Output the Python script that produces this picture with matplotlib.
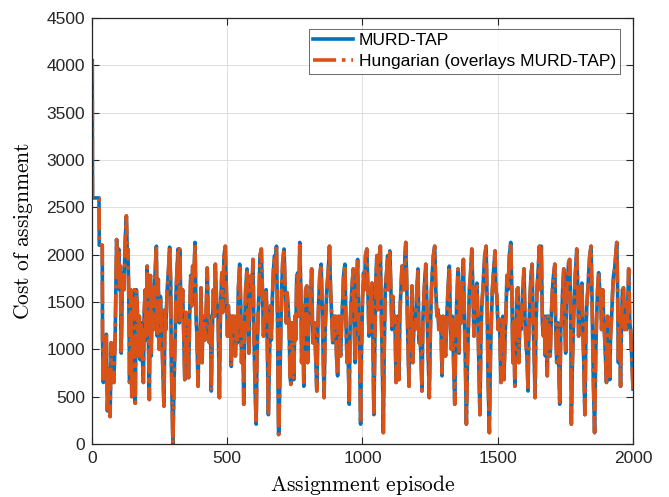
import matplotlib
matplotlib.use("Agg")
import matplotlib.pyplot as plt

plt.rcParams['font.family'] = ['Liberation Sans', 'DejaVu Sans']
plt.rcParams['mathtext.fontset'] = 'cm'

# nombres de las series y ejes
series_names = ['MURD-TAP', 'Hungarian (overlays MURD-TAP)']
x_label = r'$\mathrm{Assignment\ episode}$'
y_label = r'$\mathrm{Cost\ of\ assignment}$'
x_ticks = [0, 500, 1000, 1500, 2000]
y_ticks = [0, 500, 1000, 1500, 2000, 2500, 3000, 3500, 4000, 4500]

# vertices (episodio, costo)
episode = [
    1, 2, 26, 27, 38,
    39, 42, 47, 49, 53, 57, 62, 67, 71, 76,
    81, 86, 91, 95, 99, 102, 105, 108, 113, 118,
    123, 127, 131, 133, 136, 139, 143, 147, 152, 157,
    160, 164, 167, 171, 175, 178, 182, 186, 190, 193,
    197, 201, 204, 208, 212, 216, 219, 223, 227, 231,
    238, 241, 245, 249, 253, 257, 262, 266, 270, 273,
    278, 283, 287, 291, 293, 299, 304, 308, 311, 318,
    323,
    324, 330, 335, 339, 343, 348, 353, 357, 361, 365,
    369, 372, 377, 381, 385, 388, 392, 396, 399, 403,
    407, 410, 414, 418, 423, 426, 430, 434, 438, 441,
    445, 449, 453, 456, 461, 466, 471, 475, 480, 483,
    488, 493, 497, 501, 504, 508, 512, 515, 519, 523,
    527, 530, 534, 538, 541, 546, 550, 553, 557, 561,
    564, 568, 573, 577, 580, 584, 588, 592, 595, 599,
    603, 607, 610, 614, 618, 621, 626, 630, 634, 639,
    644, 647, 652,
    660, 663, 667, 671, 675, 678, 682, 686, 688, 690,
    694, 698, 701, 705, 710, 714, 718, 721, 725, 729,
    732, 735, 739, 742, 746, 750, 753, 757, 761, 764,
    768, 772, 775, 779, 783, 786, 790, 794, 797, 801,
    805, 809, 812, 816, 820, 823, 827, 831, 835, 838,
    842, 847, 851, 854, 858, 862, 866, 869, 873, 878,
    882, 886, 890, 893, 897, 901, 904, 908, 912, 915,
    919, 923, 927, 930, 935, 939, 943, 947, 951, 954,
    958, 962, 966, 969, 973, 977, 982, 986,
    988, 993, 996, 1000, 1004, 1007, 1011, 1016, 1020, 1024,
    1027, 1031, 1035, 1038, 1042, 1046, 1050, 1053, 1057, 1061,
    1066, 1069, 1073, 1077, 1080, 1084, 1089, 1093, 1096, 1101,
    1105, 1109, 1112, 1116, 1120, 1124, 1127, 1131, 1135, 1138,
    1142, 1146, 1149, 1153, 1157, 1160, 1164, 1168, 1172, 1175,
    1179, 1183, 1186, 1190, 1194, 1197, 1201, 1205, 1209, 1212,
    1216, 1220, 1223, 1227, 1231, 1234, 1238, 1242, 1247, 1251,
    1255, 1258, 1262, 1267, 1271, 1275, 1279, 1282, 1286, 1291,
    1294, 1298, 1302, 1307, 1312, 1316,
    1321, 1325, 1329, 1332, 1337, 1341, 1344, 1348, 1353, 1357,
    1360, 1364, 1368, 1373, 1377, 1380, 1384, 1388, 1392, 1395,
    1399, 1404, 1408, 1412, 1415, 1419, 1423, 1427, 1430, 1434,
    1438, 1441, 1445, 1449, 1452, 1457, 1461, 1464, 1469, 1473,
    1476, 1480, 1485, 1490, 1493, 1497, 1501, 1505, 1508, 1512,
    1516, 1519, 1523, 1527, 1530, 1534, 1538, 1543, 1548, 1552,
    1556, 1560, 1563, 1567, 1571, 1575, 1578, 1582, 1586, 1589,
    1593, 1597, 1601, 1604, 1608, 1612, 1615, 1619, 1623, 1627,
    1630, 1634, 1638, 1641, 1645, 1649,
    1654, 1657, 1661, 1665, 1669, 1672, 1676, 1680, 1683, 1687,
    1691, 1694, 1698, 1702, 1706, 1711, 1714, 1718, 1722, 1725,
    1729, 1733, 1737, 1740, 1744, 1748, 1751, 1755, 1759, 1762,
    1766, 1770, 1772, 1776, 1780, 1784, 1787, 1792, 1796, 1799,
    1803, 1807, 1811, 1814, 1818, 1822, 1826, 1829, 1833, 1837,
    1840, 1845, 1849, 1853, 1858, 1862, 1865, 1869, 1873, 1877,
    1880, 1884, 1888, 1891, 1895, 1899, 1902, 1906, 1910, 1914,
    1917, 1921, 1925, 1928, 1932, 1936, 1940, 1943, 1946, 1950,
    1954, 1957, 1961, 1965, 1969, 1972, 1976, 1980, 1984, 1988,
    1991, 1996, 2000,
]

cost = [
    4050, 2600, 2600, 2100, 2100,
    1100, 650, 1140, 720, 1160, 350, 790, 290, 1070, 720,
    650, 1180, 2160, 1780, 2060, 1630, 1880, 960, 1810, 1630,
    2160, 2410, 1990, 2060, 1560, 650, 1630, 500, 1140, 1630,
    430, 1630, 1490, 930, 1350, 890, 1280, 930, 650, 1390,
    1630, 1100, 1880, 1210, 470, 1780, 930, 1630, 1210, 1670,
    2090, 1140, 1740, 1000, 1560, 1280, 790, 400, 1420, 1210,
    1630, 1850, 2080, 1700, 930, 5, 720, 1210, 1630, 2060,
    1280,
    2060, 1350, 1630, 1180, 680, 1390, 1100, 700, 1350, 1780,
    1460, 1880, 1780, 2130, 1320, 1140, 610, 1210, 890, 1650,
    860, 1280, 1350, 1100, 1490, 1860, 1350, 1070, 1350, 560,
    1210, 1630, 1350, 1900, 1490, 1420, 490, 1420, 1810, 1390,
    1990, 2090, 1630, 1140, 1460, 1140, 1350, 820, 1350, 1140,
    1350, 930, 1280, 1070, 1630, 1900, 1460, 860, 1280, 420,
    1210, 1630, 1850, 1280, 960, 1530, 1780, 1630, 1950, 1140,
    580, 210, 930, 1350, 1630, 1990, 2060, 1630, 1140, 1350,
    1630, 1280, 310,
    1460, 1100, 1560, 1850, 1990, 1850, 2090, 1280, 580, 100,
    580, 1210, 1630, 1920, 2060, 1630, 1280, 1600, 1460, 1210,
    720, 630, 1280, 1000, 680, 1350, 1100, 1780, 1810, 1350,
    2130, 1630, 860, 1460, 610, 1280, 1630, 1670, 860, 1350,
    1280, 1630, 1850, 1070, 1210, 1280, 930, 560, 1210, 1490,
    1780, 1900, 1460, 1030, 490, 1210, 1490, 1670, 1810, 2090,
    1630, 1350, 1070, 1350, 1140, 1350, 930, 720, 1350, 1210,
    930, 1280, 1530, 1780, 1900, 1280, 860, 930, 420, 1210,
    1490, 1700, 1850, 1280, 860, 1630, 1950, 1280,
    1210, 210, 930, 1530, 1810, 1630, 1990, 2060, 1630, 1140,
    1630, 1530, 1700, 1210, 310, 1140, 1780, 1990, 1420, 1950,
    2090, 1460, 930, 120, 930, 1630, 1810, 1990, 1630, 2040,
    1630, 1210, 1560, 1280, 1350, 650, 1280, 1350, 680, 1350,
    1630, 1880, 1780, 1630, 1990, 2130, 1630, 1070, 610, 1280,
    1210, 1670, 860, 1280, 1210, 1350, 1630, 1850, 1070, 1210,
    930, 560, 1280, 1560, 1780, 1900, 1460, 1000, 490, 1210,
    1630, 1810, 1990, 2090, 1630, 1350, 1420, 1210, 1350, 1140,
    720, 1350, 1210, 930, 1350, 1630,
    1880, 1280, 1000, 1350, 820, 420, 1000, 1460, 1850, 960,
    1630, 1280, 1700, 1950, 1280, 930, 210, 860, 1280, 1630,
    1780, 2060, 1630, 1140, 1460, 1630, 1700, 1280, 860, 310,
    1180, 1460, 1630, 1850, 1990, 2090, 1460, 720, 120, 930,
    1280, 1630, 1850, 2040, 1630, 1560, 1210, 1320, 1140, 650,
    1280, 1350, 680, 1140, 1350, 1780, 1630, 1990, 2130, 1630,
    860, 1300, 610, 1210, 1630, 1650, 860, 1350, 1210, 1420,
    1630, 1850, 1280, 1070, 930, 560, 1210, 1530, 1780, 1900,
    1350, 1000, 490, 1210, 1630, 1810,
    2090, 1630, 2090, 1280, 1140, 1350, 930, 1350, 720, 1350,
    1210, 930, 1350, 1630, 1780, 1900, 1280, 860, 1280, 930,
    420, 1210, 1350, 1630, 1850, 1280, 960, 1630, 1780, 1920,
    1950, 1280, 210, 860, 1280, 1630, 1810, 2060, 1630, 1140,
    1460, 1630, 1700, 1280, 860, 310, 1180, 1460, 1630, 1850,
    1990, 2090, 1460, 720, 120, 930, 1280, 1630, 1810, 1630,
    1560, 1210, 1630, 1350, 1140, 860, 650, 1350, 1280, 680,
    1140, 1350, 1630, 1780, 1850, 1990, 2130, 1630, 860, 1300,
    610, 1210, 1630, 1650, 1210, 1350, 1210, 1420, 1850, 1280,
    1210, 860, 580,
]

# el hungaro da el mismo costo (se superpone)
murd_cost = cost
hungarian_cost = cost

fig = plt.figure(figsize=(6.69, 4.97), dpi=100)
ax = fig.add_axes([0.1375, 0.1066, 0.8087, 0.857])

ax.plot(episode, murd_cost, color=(0, 0.447, 0.741), lw=2.6,
        label=series_names[0])
ax.plot(episode, hungarian_cost, color=(0.85, 0.325, 0.098), lw=2.6,
        ls='-.', label=series_names[1])

ax.set_xlim(0, 2000)
ax.set_ylim(0, 4500)
ax.set_xticks(x_ticks)
ax.set_yticks(y_ticks)
ax.grid(True, color='#dedede', lw=0.7)
ax.set_axisbelow(True)
ax.tick_params(direction='in', length=5, width=0.8, top=True, right=True,
               labelsize=12.5, colors='#262626', pad=5)
for s in ax.spines.values():
    s.set_color('#262626')
    s.set_linewidth(0.9)

ax.set_xlabel(x_label, fontsize=15.5)
ax.set_ylabel(y_label, fontsize=15.5)
ax.xaxis.set_label_coords(0.5, -0.068)
ax.yaxis.set_label_coords(-0.106, 0.5)

leg = ax.legend(loc='upper right', bbox_to_anchor=(0.976, 0.975),
                borderaxespad=0, fontsize=12.5, fancybox=False,
                edgecolor='#262626', handlelength=2.3, handletextpad=0.3,
                labelspacing=0.35, borderpad=0.25)
leg.get_frame().set_linewidth(0.6)

fig.savefig('out.png', dpi=100)
